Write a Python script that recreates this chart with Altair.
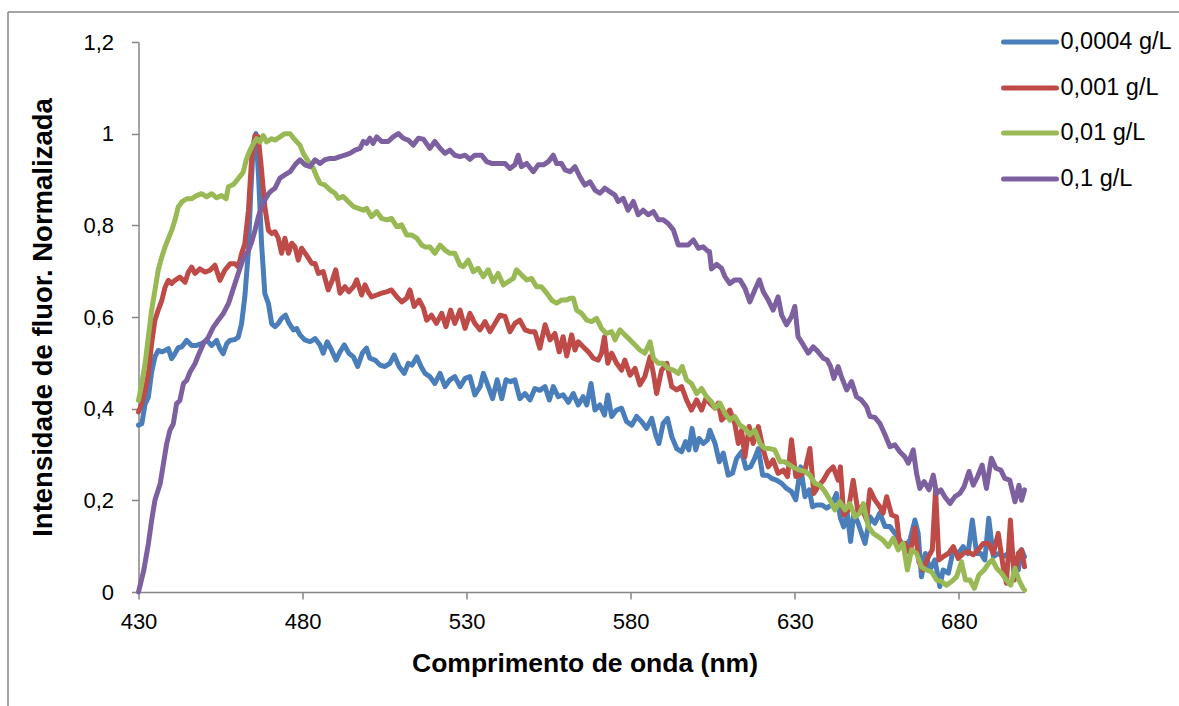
import altair as alt
import pandas as pd

names = ["0,0004 g/L", "0,001 g/L", "0,01 g/L", "0,1 g/L"]
colors = ["#4A7EBB", "#BE4B48", "#98B954", "#7D60A0"]

x_ticks = [430, 480, 530, 580, 630, 680]
y_ticks = [0, 0.2, 0.4, 0.6, 0.8, 1.0, 1.2]

blue_nm = [430.0, 431.0, 432.0, 433.0, 434.0, 435.0, 436.0, 437.1, 438.1, 439.1, 440.1, 441.1, 442.1, 443.2, 444.7,
           446.2, 447.7, 449.2, 450.8, 452.3, 453.8, 454.8, 455.8, 456.9, 457.9, 459.4, 460.4, 461.4, 462.4, 463.5,
           464.2, 465.0, 465.8, 466.6, 467.5, 468.5, 469.6, 470.6, 471.6, 472.6, 473.6, 474.8, 475.9, 477.2, 478.2,
           479.2, 480.7, 482.3, 483.8, 485.3, 486.3, 487.5, 488.9, 490.2, 491.4, 492.7, 494.1, 495.5, 496.8, 498.2,
           499.5, 500.5, 502.1, 503.6, 505.1, 506.6, 507.9, 509.4, 511.0, 512.2, 513.4, 514.8, 516.1, 517.3, 518.8,
           520.3, 521.9, 523.4, 524.9, 526.4, 528.0, 529.5, 531.0, 532.5, 534.1, 535.1, 536.6, 537.9, 539.3, 540.7,
           542.0, 543.4, 544.7, 546.2, 547.8, 549.3, 550.8, 552.3, 553.9, 555.2, 556.4, 557.9, 559.4, 561.0, 562.5,
           564.0, 565.5, 566.6, 567.9, 569.1, 570.6, 572.0, 573.0, 574.2, 575.7, 577.2, 578.7, 580.3, 581.8, 583.3,
           584.8, 586.4, 587.6, 588.6, 589.9, 591.2, 592.5, 594.0, 595.5, 596.7, 597.7, 598.7, 599.8, 600.8, 602.1,
           603.4, 604.1, 605.7, 607.0, 608.2, 609.7, 611.0, 612.3, 613.8, 615.1, 616.5, 617.8, 618.9, 620.2, 621.6,
           622.9, 624.4, 626.0, 627.5, 629.0, 630.3, 631.8, 633.1, 634.4, 635.4, 636.6, 638.2, 639.7, 641.2, 642.7,
           643.9, 644.9, 646.0, 647.0, 648.0, 649.3, 651.4, 652.9, 654.4, 655.9, 657.5, 659.0, 660.5, 662.0, 663.5,
           665.1, 666.6, 667.6, 668.6, 669.8, 671.2, 672.7, 674.2, 675.2, 676.8, 678.3, 679.8, 681.3, 682.8, 684.1,
           685.4, 686.7, 687.9, 689.1, 690.5, 692.0, 693.5, 695.0, 696.5, 698.1, 699.1, 700.0]
blue_val = [0.364, 0.367, 0.41, 0.425, 0.48, 0.513, 0.527, 0.524, 0.527, 0.531, 0.509, 0.52, 0.533, 0.535, 0.549,
            0.538, 0.538, 0.542, 0.549, 0.538, 0.549, 0.531, 0.52, 0.542, 0.549, 0.551, 0.556, 0.585, 0.644, 0.745,
            0.87, 0.978, 1.0, 0.905, 0.76, 0.651, 0.629, 0.585, 0.579, 0.586, 0.597, 0.604, 0.586, 0.572, 0.575,
            0.561, 0.55, 0.546, 0.553, 0.539, 0.521, 0.546, 0.527, 0.506, 0.524, 0.539, 0.521, 0.513, 0.492, 0.521,
            0.532, 0.51, 0.506, 0.495, 0.492, 0.499, 0.517, 0.492, 0.477, 0.499, 0.495, 0.513, 0.492, 0.477, 0.47,
            0.455, 0.477, 0.448, 0.463, 0.47, 0.448, 0.466, 0.47, 0.43, 0.448, 0.477, 0.448, 0.422, 0.463, 0.422,
            0.463, 0.459, 0.463, 0.422, 0.433, 0.419, 0.444, 0.44, 0.448, 0.419, 0.448, 0.426, 0.43, 0.414, 0.433,
            0.408, 0.426, 0.408, 0.455, 0.397, 0.408, 0.386, 0.43, 0.383, 0.397, 0.401, 0.372, 0.364, 0.383, 0.372,
            0.357, 0.379, 0.343, 0.324, 0.368, 0.379, 0.339, 0.313, 0.306, 0.328, 0.31, 0.357, 0.31, 0.335, 0.324,
            0.332, 0.353, 0.324, 0.284, 0.303, 0.255, 0.259, 0.292, 0.306, 0.27, 0.273, 0.292, 0.313, 0.255, 0.255,
            0.248, 0.244, 0.237, 0.226, 0.219, 0.201, 0.273, 0.208, 0.223, 0.186, 0.19, 0.19, 0.183, 0.19, 0.215,
            0.161, 0.142, 0.172, 0.11, 0.172, 0.15, 0.106, 0.164, 0.15, 0.172, 0.143, 0.143, 0.128, 0.113, 0.099,
            0.113, 0.157, 0.128, 0.033, 0.084, 0.048, 0.07, 0.012, 0.048, 0.041, 0.092, 0.084, 0.099, 0.084, 0.157,
            0.084, 0.084, 0.07, 0.161, 0.077, 0.084, 0.077, 0.084, 0.066, 0.048, 0.092, 0.077]

red_nm = [430.0, 431.0, 432.0, 433.0, 434.0, 435.0, 436.0, 437.1, 438.1, 439.1, 440.1, 441.1, 442.6, 444.2, 445.2,
          446.2, 447.2, 448.7, 450.3, 451.8, 453.3, 454.8, 456.3, 457.9, 459.4, 460.4, 461.4, 462.4, 463.5, 464.5,
          465.5, 466.5, 467.5, 468.5, 469.6, 470.6, 471.6, 472.6, 473.6, 474.6, 475.7, 476.7, 477.7, 478.7, 479.7,
          481.2, 482.8, 483.8, 484.8, 486.3, 487.8, 489.1, 490.1, 491.4, 492.9, 494.1, 495.5, 496.5, 498.0, 499.0,
          500.0, 501.0, 502.6, 504.1, 505.6, 507.1, 508.7, 510.2, 511.7, 512.7, 514.0, 515.5, 516.8, 517.8, 519.3,
          520.8, 522.4, 523.7, 525.1, 526.4, 528.0, 529.5, 531.0, 532.5, 534.1, 535.6, 537.1, 538.6, 540.1, 541.7,
          543.2, 544.7, 546.2, 547.8, 549.3, 550.8, 552.3, 553.9, 555.4, 556.9, 558.2, 559.4, 560.5, 562.0, 563.0,
          564.0, 565.5, 567.1, 568.6, 570.1, 571.1, 572.0, 573.0, 574.2, 575.7, 577.2, 578.2, 579.8, 581.3, 582.8,
          584.3, 585.9, 586.9, 587.9, 589.4, 591.0, 592.5, 594.0, 595.5, 597.0, 598.5, 600.1, 601.6, 603.1, 604.1,
          605.7, 606.7, 607.7, 608.7, 610.2, 611.7, 612.8, 613.8, 614.8, 616.1, 617.3, 618.9, 620.4, 621.9, 623.4,
          624.9, 626.5, 627.8, 629.0, 630.3, 631.8, 633.1, 634.6, 635.8, 637.1, 638.7, 640.2, 641.7, 643.2, 643.9,
          644.9, 646.3, 647.8, 649.3, 650.3, 651.9, 652.9, 654.4, 655.9, 656.9, 658.0, 659.5, 661.0, 662.0, 663.5,
          665.1, 666.6, 667.8, 669.1, 670.7, 671.9, 672.9, 673.9, 675.2, 676.8, 678.3, 679.8, 681.3, 682.8, 684.4,
          685.9, 687.4, 689.0, 690.5, 692.0, 693.5, 694.5, 695.7, 696.9, 698.1, 699.1, 700.0]
red_val = [0.393, 0.411, 0.44, 0.476, 0.542, 0.593, 0.615, 0.636, 0.665, 0.68, 0.673, 0.68, 0.687, 0.676, 0.698,
           0.709, 0.695, 0.705, 0.698, 0.702, 0.713, 0.68, 0.702, 0.716, 0.716, 0.709, 0.738, 0.76, 0.833, 0.949,
           0.996, 0.993, 0.92, 0.84, 0.789, 0.782, 0.786, 0.772, 0.739, 0.772, 0.739, 0.761, 0.753, 0.724, 0.75,
           0.735, 0.717, 0.717, 0.695, 0.699, 0.659, 0.681, 0.703, 0.652, 0.666, 0.655, 0.666, 0.681, 0.648, 0.67,
           0.655, 0.644, 0.648, 0.652, 0.655, 0.659, 0.644, 0.633, 0.641, 0.659, 0.623, 0.637, 0.62, 0.593, 0.604,
           0.586, 0.608, 0.579, 0.615, 0.586, 0.615, 0.575, 0.608, 0.586, 0.572, 0.59, 0.568, 0.586, 0.604, 0.601,
           0.568, 0.586, 0.593, 0.572, 0.568, 0.568, 0.532, 0.583, 0.55, 0.564, 0.524, 0.557, 0.515, 0.561, 0.528,
           0.546, 0.535, 0.524, 0.51, 0.506, 0.521, 0.557, 0.499, 0.521, 0.499, 0.484, 0.506, 0.473, 0.488, 0.452,
           0.47, 0.513, 0.477, 0.433, 0.484, 0.499, 0.448, 0.441, 0.448, 0.419, 0.397, 0.419, 0.397, 0.426, 0.412,
           0.401, 0.412, 0.375, 0.383, 0.397, 0.368, 0.324, 0.353, 0.295, 0.361, 0.324, 0.361, 0.31, 0.273, 0.288,
           0.259, 0.266, 0.252, 0.332, 0.252, 0.255, 0.266, 0.313, 0.215, 0.23, 0.244, 0.263, 0.273, 0.244, 0.273,
           0.168, 0.179, 0.244, 0.172, 0.186, 0.157, 0.223, 0.201, 0.186, 0.172, 0.208, 0.168, 0.164, 0.099, 0.106,
           0.084, 0.139, 0.066, 0.048, 0.077, 0.092, 0.223, 0.07, 0.077, 0.084, 0.099, 0.073, 0.084, 0.088, 0.081,
           0.092, 0.106, 0.106, 0.084, 0.128, 0.055, 0.019, 0.157, 0.026, 0.084, 0.092, 0.055]

green_nm = [430.0, 431.0, 432.0, 433.0, 434.0, 435.0, 436.0, 437.1, 438.1, 439.1, 440.1, 441.1, 442.1, 443.2, 444.7,
            446.2, 447.7, 449.2, 450.8, 452.3, 453.8, 455.3, 456.7, 457.4, 458.9, 460.4, 461.9, 462.9, 464.0, 465.0,
            466.0, 467.0, 468.0, 469.0, 470.6, 471.6, 473.1, 474.6, 476.2, 477.7, 479.2, 480.2, 481.8, 483.3, 484.3,
            485.3, 486.8, 488.4, 489.9, 490.9, 492.4, 493.9, 495.5, 497.0, 498.5, 499.5, 501.0, 502.6, 504.1, 505.6,
            507.1, 508.7, 510.2, 511.7, 513.2, 514.8, 516.3, 517.3, 518.8, 520.3, 521.9, 523.4, 524.9, 526.4, 528.0,
            529.0, 530.5, 532.0, 533.5, 535.1, 536.6, 538.1, 539.6, 541.2, 542.7, 544.2, 545.2, 546.7, 548.3, 549.8,
            551.3, 552.8, 554.4, 555.9, 557.4, 558.9, 560.5, 561.5, 562.5, 563.5, 565.0, 566.6, 568.1, 569.6, 571.1,
            572.6, 574.2, 575.2, 576.7, 578.2, 579.8, 581.3, 582.8, 584.3, 585.9, 586.9, 588.4, 589.9, 591.4, 593.0,
            594.5, 595.7, 597.0, 598.5, 600.1, 601.6, 603.1, 604.6, 605.7, 607.2, 608.7, 610.2, 611.7, 613.3, 614.8,
            616.3, 617.8, 619.4, 620.9, 622.4, 623.9, 625.5, 627.0, 628.5, 630.0, 631.6, 633.1, 634.6, 636.1, 637.6,
            639.2, 640.7, 642.2, 643.7, 645.3, 646.8, 648.3, 649.8, 650.9, 652.4, 653.9, 655.4, 656.9, 658.5, 660.0,
            661.5, 663.0, 664.3, 665.6, 667.1, 668.6, 670.1, 671.7, 673.2, 674.7, 676.2, 677.8, 679.3, 680.8, 682.0,
            683.4, 684.7, 686.1, 687.7, 689.1, 690.2, 691.5, 693.0, 694.5, 695.8, 697.1, 698.3, 699.6, 700.0]
green_val = [0.418, 0.455, 0.498, 0.556, 0.615, 0.658, 0.702, 0.731, 0.753, 0.771, 0.789, 0.811, 0.84, 0.851, 0.858,
             0.858, 0.865, 0.869, 0.862, 0.869, 0.86, 0.865, 0.858, 0.884, 0.889, 0.902, 0.916, 0.945, 0.964, 0.978,
             0.989, 0.982, 0.996, 0.982, 0.989, 0.986, 0.993, 1.0, 1.0, 0.986, 0.975, 0.957, 0.939, 0.924, 0.906,
             0.892, 0.888, 0.877, 0.87, 0.859, 0.863, 0.852, 0.841, 0.837, 0.833, 0.837, 0.819, 0.83, 0.815, 0.812,
             0.815, 0.797, 0.801, 0.779, 0.779, 0.772, 0.757, 0.753, 0.753, 0.739, 0.757, 0.746, 0.739, 0.739, 0.713,
             0.71, 0.724, 0.699, 0.706, 0.688, 0.703, 0.677, 0.695, 0.67, 0.677, 0.684, 0.703, 0.692, 0.681, 0.684,
             0.666, 0.666, 0.652, 0.637, 0.63, 0.637, 0.637, 0.641, 0.641, 0.615, 0.608, 0.593, 0.59, 0.597, 0.575,
             0.564, 0.568, 0.55, 0.572, 0.561, 0.55, 0.539, 0.528, 0.521, 0.546, 0.51, 0.499, 0.499, 0.488, 0.484,
             0.477, 0.492, 0.463, 0.455, 0.433, 0.444, 0.426, 0.415, 0.401, 0.412, 0.39, 0.375, 0.383, 0.364, 0.357,
             0.343, 0.353, 0.324, 0.313, 0.313, 0.31, 0.284, 0.284, 0.277, 0.27, 0.266, 0.263, 0.255, 0.237, 0.233,
             0.219, 0.201, 0.179, 0.197, 0.179, 0.193, 0.164, 0.172, 0.193, 0.143, 0.128, 0.121, 0.113, 0.099, 0.117,
             0.092, 0.106, 0.048, 0.092, 0.084, 0.055, 0.048, 0.044, 0.026, 0.023, 0.015, 0.023, 0.033, 0.066, 0.026,
             0.026, 0.008, 0.037, 0.048, 0.063, 0.07, 0.052, 0.041, 0.026, 0.015, 0.052, 0.026, 0.008, 0.004]

purple_nm = [430.0, 431.6, 433.0, 434.0, 435.0, 436.6, 437.6, 438.6, 439.6, 440.6, 441.6, 442.6, 443.7, 444.7, 445.7,
             447.2, 448.2, 449.8, 451.3, 452.8, 454.3, 455.8, 457.4, 458.4, 459.4, 460.4, 461.9, 463.5, 464.5, 465.5,
             466.5, 467.5, 468.5, 469.6, 470.6, 471.6, 473.1, 474.6, 476.2, 477.7, 479.2, 480.7, 482.3, 483.8, 485.3,
             486.8, 488.4, 489.9, 491.4, 492.9, 494.4, 496.0, 497.5, 498.5, 499.5, 500.5, 501.5, 502.6, 504.1, 506.1,
             507.6, 509.2, 510.7, 512.2, 513.7, 515.3, 516.8, 518.8, 520.3, 521.9, 523.4, 524.9, 526.4, 528.0, 529.5,
             531.0, 532.5, 534.6, 536.1, 537.6, 539.6, 541.7, 543.2, 544.7, 545.7, 546.7, 548.3, 550.3, 551.8, 553.4,
             554.9, 556.4, 557.4, 558.9, 560.0, 561.5, 563.0, 564.5, 566.0, 567.6, 569.1, 570.6, 572.1, 573.7, 575.2,
             576.2, 577.7, 579.2, 580.8, 582.3, 583.8, 585.3, 586.9, 588.4, 589.9, 591.4, 593.0, 594.5, 596.0, 597.5,
             599.1, 600.6, 602.1, 603.6, 604.0, 604.6, 606.2, 607.7, 608.7, 610.2, 611.7, 613.3, 614.8, 616.3, 617.8,
             619.2, 620.4, 621.9, 623.4, 624.9, 626.0, 627.5, 629.0, 630.0, 631.0, 632.6, 634.1, 635.6, 637.1, 638.7,
             639.9, 640.9, 641.9, 643.2, 644.2, 645.8, 647.3, 648.8, 650.3, 651.9, 652.9, 654.4, 655.9, 657.5, 659.0,
             660.5, 662.0, 663.5, 664.6, 666.1, 667.1, 668.1, 669.4, 670.9, 672.2, 673.2, 674.5, 675.7, 677.3, 678.8,
             680.3, 681.6, 683.1, 684.4, 685.7, 687.1, 688.4, 689.9, 691.3, 692.8, 694.0, 695.5, 697.1, 698.3, 699.1,
             700.0]
purple_val = [0.0, 0.047, 0.105, 0.156, 0.2, 0.236, 0.28, 0.324, 0.353, 0.367, 0.411, 0.418, 0.455, 0.462, 0.48,
              0.498, 0.516, 0.542, 0.556, 0.578, 0.593, 0.607, 0.629, 0.651, 0.673, 0.695, 0.727, 0.745, 0.764, 0.789,
              0.818, 0.84, 0.855, 0.869, 0.876, 0.881, 0.903, 0.91, 0.917, 0.932, 0.943, 0.932, 0.928, 0.943, 0.935,
              0.943, 0.946, 0.946, 0.95, 0.953, 0.957, 0.964, 0.968, 0.983, 0.979, 0.99, 0.979, 0.993, 0.983, 0.983,
              0.993, 1.0, 0.99, 0.986, 0.975, 0.99, 0.988, 0.968, 0.983, 0.968, 0.957, 0.964, 0.953, 0.95, 0.953,
              0.944, 0.953, 0.953, 0.939, 0.935, 0.935, 0.935, 0.924, 0.932, 0.953, 0.928, 0.935, 0.917, 0.932, 0.932,
              0.939, 0.953, 0.935, 0.935, 0.921, 0.917, 0.928, 0.906, 0.888, 0.895, 0.877, 0.87, 0.881, 0.873, 0.866,
              0.852, 0.859, 0.833, 0.852, 0.823, 0.833, 0.823, 0.83, 0.812, 0.812, 0.804, 0.79, 0.757, 0.757, 0.757,
              0.768, 0.75, 0.753, 0.743, 0.743, 0.705, 0.715, 0.706, 0.688, 0.673, 0.681, 0.681, 0.663, 0.633, 0.659,
              0.681, 0.655, 0.637, 0.615, 0.644, 0.604, 0.583, 0.601, 0.623, 0.557, 0.539, 0.521, 0.535, 0.524, 0.51,
              0.506, 0.492, 0.466, 0.492, 0.47, 0.441, 0.459, 0.426, 0.419, 0.404, 0.383, 0.381, 0.368, 0.343, 0.317,
              0.321, 0.306, 0.295, 0.281, 0.31, 0.259, 0.226, 0.241, 0.223, 0.255, 0.215, 0.223, 0.208, 0.193, 0.208,
              0.215, 0.23, 0.263, 0.233, 0.252, 0.277, 0.226, 0.292, 0.27, 0.266, 0.248, 0.244, 0.197, 0.233, 0.2,
              0.223]

series_nm = [blue_nm, red_nm, green_nm, purple_nm]
series_val = [blue_val, red_val, green_val, purple_val]

frames = []
for name, xs, ys in zip(names, series_nm, series_val):
    frames.append(pd.DataFrame({"nm": xs, "val": ys, "series": name}))
data = pd.concat(frames, ignore_index=True)

W, H = 886, 550
AXIS_GRAY = "#868686"
LABEL_FONT = "Liberation Sans"
TITLE_FONT = "Liberation Sans"

x_axis = alt.Axis(
    values=x_ticks, title="Comprimento de onda (nm)", grid=False,
    domainColor=AXIS_GRAY, domainWidth=1.5, tickColor=AXIS_GRAY, tickWidth=1.5, tickSize=7,
    labelFont=LABEL_FONT, labelFontSize=22, labelColor="black", labelPadding=12,
    labelFlush=False, labelOverlap=False,
    titleFont=TITLE_FONT, titleFontSize=26.5, titleFontWeight="bold", titleColor="black",
    titleX=W / 2 + 3, titleY=71, titleBaseline="middle", titleAlign="center",
)
y_axis = alt.Axis(
    values=y_ticks, title="Intensidade de fluor. Normalizada", grid=False,
    labelExpr="replace(format(datum.value, '.1~f'), '.', ',')",
    domainColor=AXIS_GRAY, domainWidth=1.5, tickColor=AXIS_GRAY, tickWidth=1.5, tickSize=7,
    labelFont=LABEL_FONT, labelFontSize=22, labelColor="black", labelPadding=18,
    labelFlush=False, labelOverlap=False,
    titleFont=TITLE_FONT, titleFontSize=27.5, titleFontWeight="bold", titleColor="black",
    titleX=-95.5, titleY=H / 2, titleBaseline="middle", titleAlign="center", titleAngle=270,
)

x_scale = alt.Scale(domain=[430, 700], nice=False, zero=False)
y_scale = alt.Scale(domain=[0, 1.2], nice=False, zero=True)

layers = []
for name, color in zip(names, colors):
    layers.append(
        alt.Chart(data)
        .transform_filter(alt.datum.series == name)
        .mark_line(color=color, strokeWidth=5, strokeJoin="round", strokeCap="round")
        .encode(
            x=alt.X("nm:Q", scale=x_scale, axis=x_axis),
            y=alt.Y("val:Q", scale=y_scale, axis=y_axis),
        )
    )

# legend drawn beside the plot (entries in series order)
legend_rows = [0, 46, 91, 137]
one = alt.Data(values=[{}])
for name, color, ly in zip(names, colors, legend_rows):
    layers.append(
        alt.Chart(one).mark_rule(color=color, strokeWidth=5, strokeCap="round")
        .encode(x=alt.value(865), x2=alt.value(918), y=alt.value(ly))
    )
    layers.append(
        alt.Chart(one).mark_text(text=name, align="left", baseline="middle",
                                 font=LABEL_FONT, fontSize=23.5, color="black")
        .encode(x=alt.value(922), y=alt.value(ly))
    )

# outer chart frame
layers.append(
    alt.Chart(one).mark_rule(color=AXIS_GRAY, strokeWidth=1.5)
    .encode(x=alt.value(-130.5), y=alt.value(-30), y2=alt.value(680))
)
layers.append(
    alt.Chart(one).mark_rule(color=AXIS_GRAY, strokeWidth=1.5)
    .encode(x=alt.value(-130.5), x2=alt.value(1060), y=alt.value(-30))
)

chart = (
    alt.layer(*layers)
    .properties(
        width=W, height=H,
        autosize=alt.AutoSizeParams(type="none"),
        padding={"left": 138.5, "top": 42, "right": 154.5, "bottom": 114},
        background="white",
    )
    .configure_view(stroke=None)
)

chart.save("out.html", embed_options={"renderer": "svg", "actions": False})
